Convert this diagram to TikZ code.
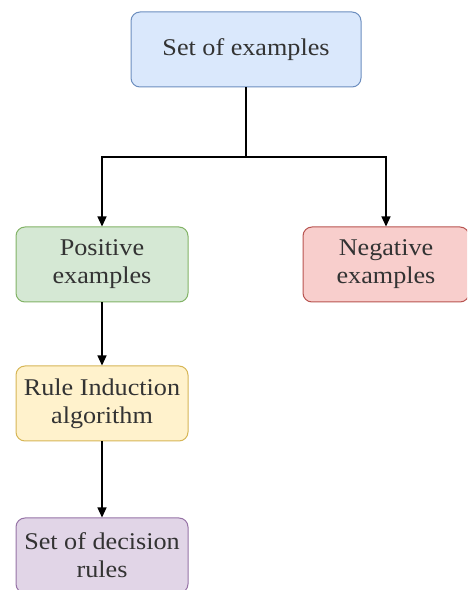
\documentclass[tikz,border=0pt]{standalone}
\usepackage{fontspec}
\setmainfont{Liberation Serif}[FakeStretch=1.09]
\usetikzlibrary{arrows.meta}
\definecolor{bluef}{HTML}{DAE8FC}\definecolor{blued}{HTML}{6C8EBF}
\definecolor{greenf}{HTML}{D5E8D4}\definecolor{greend}{HTML}{82B366}
\definecolor{redf}{HTML}{F8CECC}\definecolor{redd}{HTML}{B85450}
\definecolor{yellowf}{HTML}{FFF2CC}\definecolor{yellowd}{HTML}{D6B656}
\definecolor{purplef}{HTML}{E1D5E7}\definecolor{purpled}{HTML}{9673A6}
\tikzset{
  box/.style={rounded corners=9pt, line width=1pt, align=center, inner sep=0pt,
    font=\fontsize{24}{28}\selectfont, text=black!80},
  conn/.style={line width=1.2pt, -{Triangle[length=10pt,width=9pt]}},
}
\begin{document}
\begin{tikzpicture}[x=1pt,y=1pt]
\useasboundingbox (0,0) rectangle (467,590);
\clip (0,0) rectangle (467,590);
\node[box, draw=blued, fill=bluef, minimum width=230pt, minimum height=75pt] (top) at (246,540.5) {Set of examples};
\node[box, draw=greend, fill=greenf, minimum width=172pt, minimum height=75pt] (pos) at (102,325.5) {Positive\\examples};
\node[box, draw=redd, fill=redf, minimum width=166pt, minimum height=75pt] (neg) at (386,325.5) {Negative\\examples};
\node[box, draw=yellowd, fill=yellowf, minimum width=172pt, minimum height=75pt] (rule) at (102,186.5) {Rule Induction\\algorithm};
\node[box, draw=purpled, fill=purplef, minimum width=172pt, minimum height=75pt] (dec) at (102,34.5) {Set of decision\\rules};
\coordinate (split) at (246,433);
\draw[line width=1.2pt] (top.south) -- (split);
\draw[conn] (split) -| (pos.north);
\draw[conn] (split) -| (neg.north);
\draw[conn] (pos) -- (rule);
\draw[conn] (rule) -- (dec);
\end{tikzpicture}
\end{document}
